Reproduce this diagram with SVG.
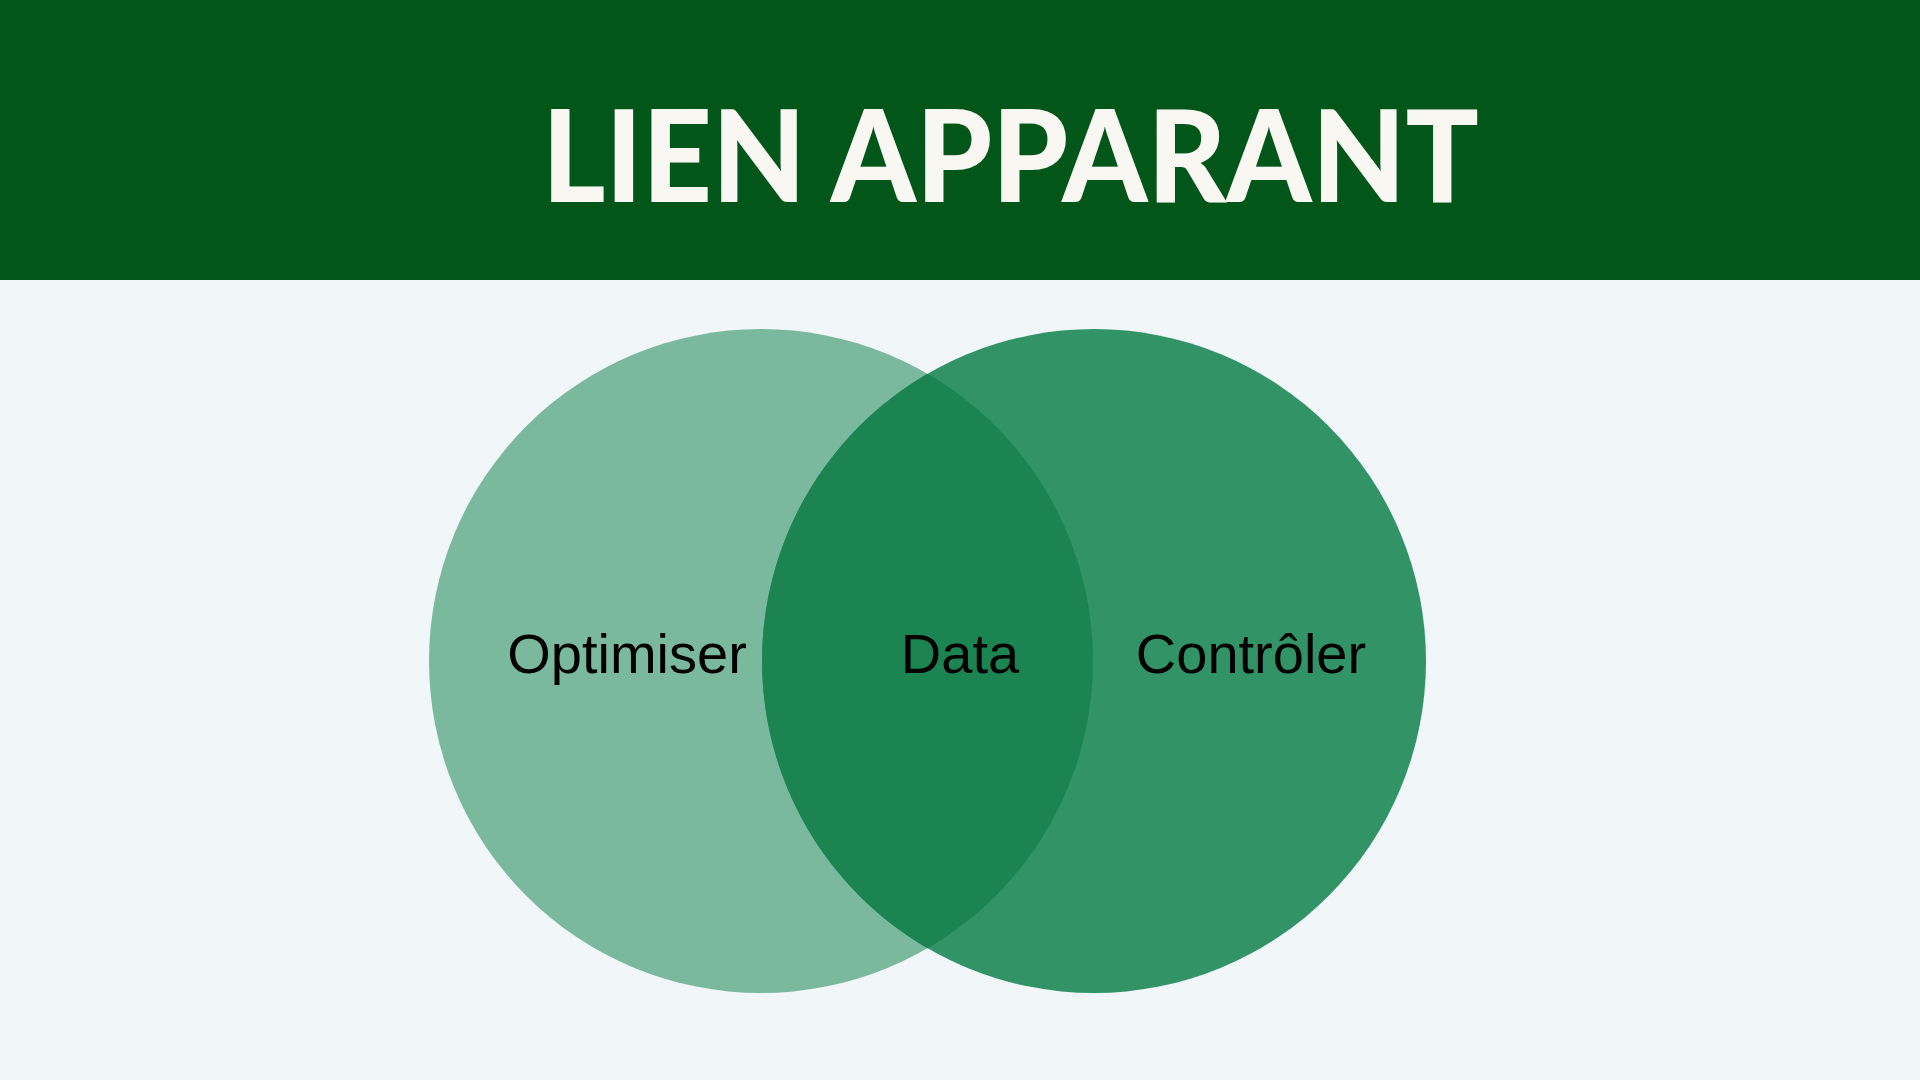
<svg xmlns="http://www.w3.org/2000/svg" width="1920" height="1080" viewBox="0 0 1920 1080">
<style>
.title{font-family:"Lato","Liberation Sans",sans-serif;font-weight:900;font-size:128px;fill:#F8F7F2}
.lbl{font-family:"Liberation Sans",Arial,sans-serif;font-size:56px;fill:#000;text-anchor:middle}
</style>
<rect x="0" y="0" width="1920" height="1080" fill="#F1F6F9"/>
<g id="header">
<rect x="0" y="0" width="1920" height="280" fill="#03561A"/>
<text class="title" x="542" y="202" textLength="937" lengthAdjust="spacingAndGlyphs">LIEN APPARANT</text>
</g>
<g id="optimiser">
<circle cx="761" cy="661" r="332" fill="#7BB99F"/>
</g>
<g id="controler">
<circle cx="1094" cy="661" r="332" fill="#329466"/>
</g>
<g id="data">
<path d="M927.5 373.8 A332 332 0 0 1 927.5 948.2 A332 332 0 0 1 927.5 373.8 Z" fill="#1B8450"/>
</g>
<g id="labels">
<text class="lbl" x="627" y="673">Optimiser</text>
<text class="lbl" x="960" y="673">Data</text>
<text class="lbl" x="1251" y="673">Contrôler</text>
</g>
<g id="connectors"></g>
</svg>
